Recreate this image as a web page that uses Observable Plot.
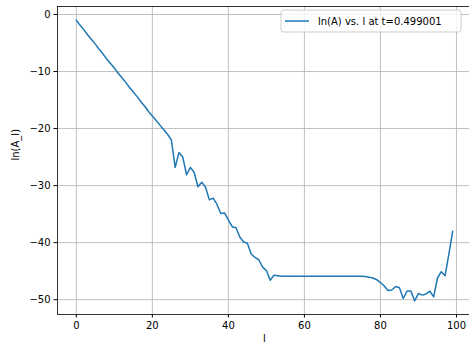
<!DOCTYPE html>
<html>
<head>
<meta charset="utf-8">
<script src="https://cdn.jsdelivr.net/npm/d3@7"></script>
<script src="https://cdn.jsdelivr.net/npm/@observablehq/plot@0.6"></script>
<style>
  html, body { margin: 0; padding: 0; background: #fff; }
  #chart svg { display: block; }
</style>
</head>
<body>
<div id="chart"></div>
<script>
// ln(A_l) for l = 0 … 99 at t = 0.499001
const lnA = [
  -1.0, -1.9, -2.7, -3.6, -4.4, -5.2, -6.1, -6.9, -7.8, -8.6,
  -9.4, -10.3, -11.1, -11.9, -12.8, -13.6, -14.4, -15.3, -16.1, -17.0,
  -17.8, -18.6, -19.4, -20.2, -21.0, -22.0, -26.8, -24.2, -25.0, -28.1,
  -26.8, -27.7, -30.2, -29.4, -30.3, -32.5, -32.2, -33.3, -34.9, -34.8,
  -36.0, -37.2, -37.4, -39.0, -39.9, -40.1, -42.0, -42.6, -43.0, -44.3,
  -44.9, -46.6, -45.7, -45.8, -45.9, -45.9, -45.9, -45.9, -45.9, -45.9,
  -45.9, -45.9, -45.9, -45.9, -45.9, -45.9, -45.9, -45.9, -45.9, -45.9,
  -45.9, -45.9, -45.9, -45.9, -45.9, -45.9, -45.95, -46.05, -46.2, -46.5,
  -47.0, -47.6, -48.4, -48.3, -47.7, -47.9, -49.8, -48.5, -48.5, -50.2,
  -48.9, -49.2, -49.0, -48.5, -49.5, -46.2, -45.1, -45.8, -42.0, -38.0
];
const xTicks = [0, 20, 40, 60, 80, 100];
const yTicks = [0, -10, -20, -30, -40, -50];
const seriesLabel = "ln(A) vs. l at t=0.499001";
const xLabel = "l";
const yLabel = "ln(A_l)";

const data = lnA.map((v, l) => ({l, v}));
const fmt = d3.format("d");
const blue = "#1f77b4";
const gridStyle = {stroke: "#b0b0b0", strokeOpacity: 1, strokeWidth: 0.8};

const chart = Plot.plot({
  width: 469,
  height: 349,
  marginLeft: 57,
  marginRight: -2,
  marginTop: 6,
  marginBottom: 35,
  style: {fontFamily: "DejaVu Sans", fontSize: "10px", color: "#000", background: "#fff"},
  x: {domain: [-4.95, 103.95], label: null},
  y: {domain: [-52.6, 1.4], label: null},
  marks: [
    Plot.gridX({ticks: xTicks, ...gridStyle}),
    Plot.gridY({ticks: yTicks, ...gridStyle}),
    Plot.line(data, {x: "l", y: "v", stroke: blue, strokeWidth: 1.5}),
    Plot.frame({stroke: "#000", strokeWidth: 0.8}),
    Plot.axisX({ticks: xTicks, tickSize: 3.5, tickPadding: 3.5, tickFormat: fmt, label: null, fontSize: 10}),
    Plot.axisY({ticks: yTicks, tickSize: 3.5, tickPadding: 3.5, tickFormat: fmt, label: null, fontSize: 10}),
    Plot.text([xLabel], {text: d => d, frameAnchor: "bottom", dy: 27, fontSize: 10}),
    Plot.text([yLabel], {text: d => d, frameAnchor: "left", rotate: -90, dx: -42, fontSize: 10})
  ]
});

// Legend box in the upper right corner of the axes
const svg = d3.select(chart);
const lg = svg.append("g")
  .attr("transform", "translate(281,10)")
  .attr("text-anchor", "start");
lg.append("rect")
  .attr("width", 180).attr("height", 22).attr("rx", 2.5)
  .attr("fill", "#fff").attr("fill-opacity", 0.8)
  .attr("stroke", "#cccccc").attr("stroke-width", 1);
lg.append("line")
  .attr("x1", 4).attr("x2", 28).attr("y1", 11).attr("y2", 11)
  .attr("stroke", blue).attr("stroke-width", 1.5);
lg.append("text")
  .attr("x", 37).attr("y", 11).attr("dy", "0.35em")
  .attr("text-anchor", "start")
  .attr("font-family", "DejaVu Sans").attr("font-size", 10).attr("fill", "#000")
  .text(seriesLabel);

document.getElementById("chart").appendChild(chart);
</script>
</body>
</html>
